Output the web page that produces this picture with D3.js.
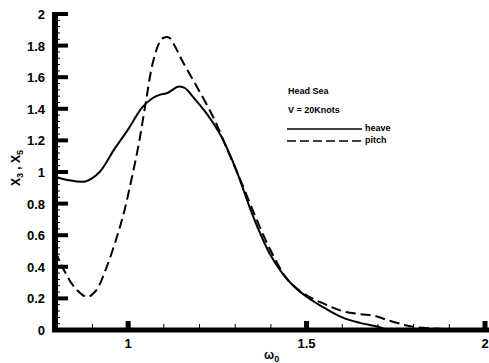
<!DOCTYPE html>
<html>
<head>
<meta charset="utf-8">
<script src="https://cdn.jsdelivr.net/npm/d3@7"></script>
<style>
body { margin: 0; background: #fff; }
text { font-family: "Liberation Sans", Arial, sans-serif; font-weight: bold; fill: #000; }
</style>
</head>
<body>
<svg id="mainSVG"></svg>
<script>
// chart size
var width = 489;
var height = 363;

// heave curve (omega, amplitude)
var heaveW = [0.795, 0.83, 0.88, 0.92, 0.96, 1.0, 1.04, 1.07, 1.09, 1.11, 1.14, 1.16, 1.18, 1.22, 1.26, 1.30, 1.35, 1.40, 1.45, 1.50, 1.55, 1.60, 1.65, 1.70, 1.73, 1.80, 2.0];
var heaveV = [0.97, 0.95, 0.94, 1.0, 1.14, 1.27, 1.41, 1.47, 1.49, 1.50, 1.54, 1.53, 1.48, 1.37, 1.23, 1.03, 0.72, 0.47, 0.31, 0.21, 0.14, 0.08, 0.045, 0.02, 0.0, 0.0, 0.0];

// pitch curve
var pitchW = [0.795, 0.82, 0.85, 0.885, 0.91, 0.94, 0.97, 0.99, 1.01, 1.03, 1.05, 1.07, 1.09, 1.10, 1.115, 1.13, 1.15, 1.19, 1.24, 1.28, 1.32, 1.36, 1.40, 1.45, 1.50, 1.55, 1.60, 1.65, 1.69, 1.73, 1.77, 1.80, 1.85, 1.90, 2.0];
var pitchV = [0.50, 0.38, 0.27, 0.21, 0.25, 0.40, 0.60, 0.76, 0.96, 1.18, 1.45, 1.70, 1.83, 1.85, 1.85, 1.80, 1.71, 1.55, 1.34, 1.13, 0.92, 0.70, 0.50, 0.31, 0.22, 0.165, 0.12, 0.10, 0.09, 0.06, 0.035, 0.02, 0.01, 0.005, 0.0];

// axis ticks
var xMajor = [1, 1.5, 2];
var xMinor = [0.9, 1.1, 1.2, 1.3, 1.4, 1.6, 1.7, 1.8, 1.9];
var yMajor = [0, 0.2, 0.4, 0.6, 0.8, 1, 1.2, 1.4, 1.6, 1.8, 2];

var svg = d3.select("#mainSVG")
    .attr("width", width)
    .attr("height", height);

var x = d3.scaleLinear().domain([0.795, 2]).range([55, 485]);
var y = d3.scaleLinear().domain([0, 2]).range([330, 14]);

// curves
var line = d3.line()
    .x(function(d) { return x(d[0]); })
    .y(function(d) { return y(d[1]); })
    .curve(d3.curveCatmullRom);

svg.append("path")
    .datum(d3.zip(heaveW, heaveV))
    .attr("d", line)
    .attr("fill", "none")
    .attr("stroke", "#000")
    .attr("stroke-width", 2);

svg.append("path")
    .datum(d3.zip(pitchW, pitchV))
    .attr("d", line)
    .attr("fill", "none")
    .attr("stroke", "#000")
    .attr("stroke-width", 2)
    .attr("stroke-dasharray", "10,5");

// y axis: minor ticks every 0.04
var yMinor = d3.range(0, 2.001, 0.04);
svg.append("g")
    .selectAll("line")
    .data(yMinor)
    .enter()
    .append("line")
    .attr("x1", 55).attr("x2", 60)
    .attr("y1", function(d) { return y(d); })
    .attr("y2", function(d) { return y(d); })
    .attr("stroke", "#000")
    .attr("stroke-width", 1);

svg.append("g")
    .selectAll("line")
    .data(yMajor)
    .enter()
    .append("line")
    .attr("x1", 55).attr("x2", 68)
    .attr("y1", function(d) { return y(d); })
    .attr("y2", function(d) { return y(d); })
    .attr("stroke", "#000")
    .attr("stroke-width", 4);

svg.append("g")
    .selectAll("text")
    .data(yMajor)
    .enter()
    .append("text")
    .attr("x", 45)
    .attr("y", function(d) { return y(d) + 5; })
    .attr("text-anchor", "end")
    .style("font-size", "13px")
    .text(function(d) { return d; });

svg.append("line")
    .attr("x1", 55).attr("x2", 55)
    .attr("y1", y(2) - 2).attr("y2", 332)
    .attr("stroke", "#000")
    .attr("stroke-width", 6);

// x axis
svg.append("g")
    .selectAll("line")
    .data(xMinor)
    .enter()
    .append("line")
    .attr("x1", function(d) { return x(d); })
    .attr("x2", function(d) { return x(d); })
    .attr("y1", 330).attr("y2", 324)
    .attr("stroke", "#000")
    .attr("stroke-width", 1);

svg.append("g")
    .selectAll("line")
    .data(xMajor)
    .enter()
    .append("line")
    .attr("x1", function(d) { return x(d); })
    .attr("x2", function(d) { return x(d); })
    .attr("y1", 330).attr("y2", 321)
    .attr("stroke", "#000")
    .attr("stroke-width", 5);

svg.append("line")
    .attr("x1", 52).attr("x2", 489)
    .attr("y1", 330).attr("y2", 330)
    .attr("stroke", "#000")
    .attr("stroke-width", 5);

svg.append("g")
    .selectAll("text")
    .data(xMajor)
    .enter()
    .append("text")
    .attr("x", function(d) { return x(d); })
    .attr("y", 348)
    .attr("text-anchor", "middle")
    .style("font-size", "13px")
    .text(function(d) { return d; });

// axis labels
svg.append("text")
    .attr("x", 264)
    .attr("y", 359)
    .style("font-size", "12px")
    .html("&#969;<tspan dy='3' font-size='9px'>0</tspan>");

svg.append("text")
    .attr("transform", "translate(20,168) rotate(-90)")
    .attr("text-anchor", "middle")
    .style("font-size", "12px")
    .html("X<tspan dy='3' font-size='9px'>3</tspan><tspan dy='-3'> , X</tspan><tspan dy='3' font-size='9px'>5</tspan>");

// legend
svg.append("text").attr("x", 288).attr("y", 94).style("font-size", "9px").text("Head Sea");
svg.append("text").attr("x", 288).attr("y", 113).style("font-size", "9px").text("V = 20Knots");
svg.append("line").attr("x1", 287).attr("x2", 362).attr("y1", 129).attr("y2", 129)
    .attr("stroke", "#000").attr("stroke-width", 1.5);
svg.append("line").attr("x1", 287).attr("x2", 362).attr("y1", 141).attr("y2", 141)
    .attr("stroke", "#000").attr("stroke-width", 1.5).attr("stroke-dasharray", "9,4");
svg.append("text").attr("x", 365).attr("y", 131).style("font-size", "9px").text("heave");
svg.append("text").attr("x", 365).attr("y", 143).style("font-size", "9px").text("pitch");
</script>
</body>
</html>
